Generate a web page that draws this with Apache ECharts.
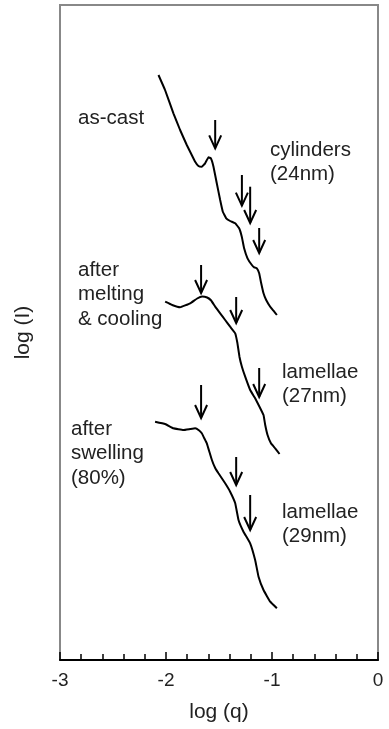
<!DOCTYPE html>
<html>
<head>
<meta charset="utf-8">
<script src="https://cdn.jsdelivr.net/npm/echarts@6/dist/echarts.min.js"></script>
<style>
  html, body { margin: 0; padding: 0; background: #fff; }
  #chart { width: 389px; height: 729px; }
</style>
</head>
<body>
<div id="chart"></div>
<script>
// SAXS profiles: log(I) (arbitrary offset units) against log(q)
const asCast = [
  [-2.071, 5.85], [-2.009, 5.70], [-1.930, 5.467], [-1.867, 5.30], [-1.804, 5.15],
  [-1.757, 5.05], [-1.725, 4.983], [-1.694, 4.94], [-1.662, 4.933], [-1.631, 4.967],
  [-1.599, 5.027], [-1.577, 5.017], [-1.552, 4.933], [-1.521, 4.767], [-1.489, 4.60],
  [-1.464, 4.483], [-1.432, 4.417], [-1.395, 4.39], [-1.347, 4.367], [-1.310, 4.317],
  [-1.285, 4.233], [-1.263, 4.117], [-1.231, 4.017], [-1.190, 3.95], [-1.168, 3.927],
  [-1.143, 3.917], [-1.121, 3.867], [-1.105, 3.783], [-1.080, 3.667], [-1.055, 3.60],
  [-1.017, 3.533], [-0.986, 3.493], [-0.954, 3.45]
];
const meltCool = [
  [-2.008, 3.583], [-1.942, 3.55], [-1.867, 3.527], [-1.772, 3.567], [-1.706, 3.615],
  [-1.659, 3.635], [-1.612, 3.625], [-1.574, 3.595], [-1.536, 3.533], [-1.489, 3.467],
  [-1.442, 3.40], [-1.395, 3.333], [-1.347, 3.267], [-1.326, 3.167], [-1.307, 3.033],
  [-1.284, 2.933], [-1.253, 2.833], [-1.206, 2.70], [-1.159, 2.617], [-1.118, 2.533],
  [-1.080, 2.45], [-1.064, 2.35], [-1.042, 2.25], [-1.010, 2.167], [-0.970, 2.117],
  [-0.929, 2.06]
];
const swollen = [
  [-2.103, 2.383], [-2.008, 2.36], [-1.930, 2.317], [-1.836, 2.30], [-1.772, 2.31],
  [-1.725, 2.317], [-1.687, 2.295], [-1.662, 2.267], [-1.640, 2.22], [-1.615, 2.167],
  [-1.567, 2.00], [-1.536, 1.92], [-1.505, 1.867], [-1.442, 1.767], [-1.395, 1.683],
  [-1.347, 1.567], [-1.316, 1.40], [-1.269, 1.283], [-1.206, 1.167], [-1.159, 1.00],
  [-1.127, 0.833], [-1.080, 0.70], [-1.017, 0.583], [-0.954, 0.517]
];
// peak markers: [log q, arrow top, arrow tip]
const peakArrows = [
  [-1.536, 5.40, 5.117], [-1.284, 4.85, 4.543], [-1.206, 4.733, 4.37], [-1.121, 4.32, 4.07],
  [-1.669, 3.95, 3.67], [-1.338, 3.63, 3.37], [-1.121, 2.92, 2.63],
  [-1.669, 2.75, 2.42], [-1.338, 2.03, 1.75], [-1.206, 1.65, 1.30]
];
const xTicks = [-3, -2, -1, 0];

const FONT = '"Liberation Sans", Arial, Helvetica, sans-serif';
const chart = echarts.init(document.getElementById('chart'), null, { renderer: 'canvas' });

function lineSeries(data) {
  return {
    type: 'line', data: data, showSymbol: false, smooth: 0.08,
    lineStyle: { color: '#000', width: 2 }, animation: false, silent: true
  };
}

const textStyle = { fill: '#222', font: '20.5px ' + FONT, lineHeight: 24.5 };

chart.setOption({
  animation: false,
  grid: { left: 60, right: 11, top: 5, bottom: 69, show: true, borderColor: '#888', borderWidth: 2 },
  xAxis: {
    type: 'value', min: xTicks[0], max: xTicks[xTicks.length - 1], interval: 1,
    name: 'log (q)', nameLocation: 'middle', nameGap: 42,
    nameTextStyle: { fontFamily: FONT, fontSize: 21, color: '#222' },
    axisLine: { lineStyle: { color: '#000', width: 2 } },
    axisTick: { inside: true, length: 8, lineStyle: { color: '#000', width: 1.5 } },
    minorTick: { show: true, splitNumber: 5, length: 6, lineStyle: { color: '#000', width: 1.5 } },
    axisLabel: { fontFamily: FONT, fontSize: 19, color: '#222', margin: 11 },
    splitLine: { show: false }
  },
  yAxis: {
    type: 'value', min: 0, max: 6.55,
    name: 'log (I)', nameLocation: 'middle', nameGap: 26, nameRotate: 90,
    nameTextStyle: { fontFamily: FONT, fontSize: 21, color: '#222' },
    axisLine: { show: true, lineStyle: { color: '#888', width: 2 } },
    axisTick: { show: false }, axisLabel: { show: false }, splitLine: { show: false }
  },
  series: [
    lineSeries(asCast),
    lineSeries(meltCool),
    lineSeries(swollen),
    {
      type: 'custom', data: peakArrows, silent: true,
      renderItem: function (params, api) {
        const top = api.coord([api.value(0), api.value(1)]);
        const tip = api.coord([api.value(0), api.value(2)]);
        const style = { stroke: '#000', lineWidth: 2, fill: null };
        return {
          type: 'group',
          children: [
            { type: 'line', shape: { x1: top[0], y1: top[1], x2: tip[0], y2: tip[1] }, style: style },
            { type: 'polyline', shape: { points: [[tip[0] - 6, tip[1] - 13], [tip[0], tip[1]], [tip[0] + 6, tip[1] - 13]] }, style: style }
          ]
        };
      }
    }
  ],
  graphic: [
    { type: 'text', left: 78, top: 106, style: Object.assign({ text: 'as-cast' }, textStyle) },
    { type: 'text', left: 78, top: 258, style: Object.assign({ text: 'after\nmelting\n& cooling' }, textStyle) },
    { type: 'text', left: 71, top: 417, style: Object.assign({ text: 'after\nswelling\n(80%)' }, textStyle) },
    { type: 'text', left: 270, top: 138, style: Object.assign({ text: 'cylinders\n(24nm)' }, textStyle) },
    { type: 'text', left: 282, top: 360, style: Object.assign({ text: 'lamellae\n(27nm)' }, textStyle) },
    { type: 'text', left: 282, top: 500, style: Object.assign({ text: 'lamellae\n(29nm)' }, textStyle) }
  ]
});
</script>
</body>
</html>
